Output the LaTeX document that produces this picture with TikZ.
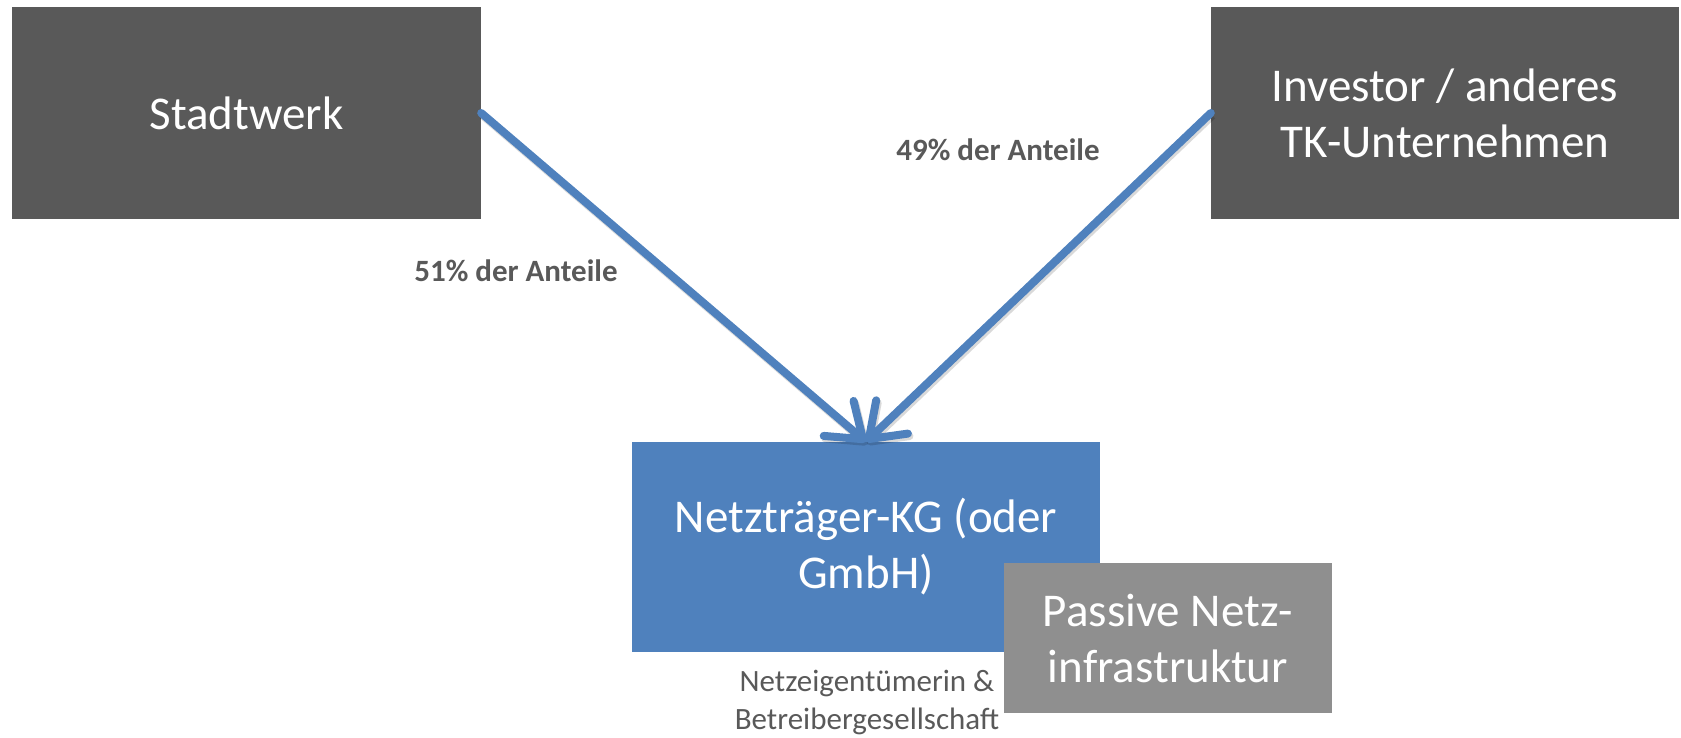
\documentclass[tikz,border=0pt]{standalone}
\usepackage{fontspec}
\setmainfont{Carlito}
\usetikzlibrary{arrows.meta}
\definecolor{darkbox}{HTML}{595959}
\definecolor{bluebox}{HTML}{4F81BD}
\definecolor{greybox}{HTML}{8F8F8F}
\definecolor{labeltext}{HTML}{595959}
\tikzset{
  box/.style={rectangle, inner sep=0pt, align=center, text=white,
    font=\fontsize{47}{56}\selectfont},
  sharelabel/.style={text=labeltext, font=\bfseries\fontsize{31}{37}\selectfont, inner sep=0pt},
  sublabel/.style={text=labeltext, align=center, font=\fontsize{31}{38}\selectfont, inner sep=0pt},
  sharearrow/.style={draw=bluebox, line width=8pt, line cap=round,
    -{Straight Barb[length=32pt, width=46pt, round]},
    preaction={draw=black, opacity=0.15, line width=8pt,
      transform canvas={shift={(1.5pt,-2.5pt)}}}}
}
\begin{document}
\begin{tikzpicture}[x=1pt,y=-1pt]
\useasboundingbox (0,0) rectangle (1681,738);
\node[box, fill=darkbox, minimum width=469pt, minimum height=212pt] (stadt) at (246.5,113) {Stadtwerk};
\node[box, fill=darkbox, minimum width=468pt, minimum height=212pt] (inv) at (1445,113) {Investor / anderes\\TK-Unternehmen};
\node[box, fill=bluebox, minimum width=468pt, minimum height=210pt] (netz) at (866,547) {Netzträger-KG (oder\\GmbH)};
\node[box, fill=greybox, minimum width=328pt, minimum height=150pt] (passive) at (1168,638) {Passive Netz-\\infrastruktur};
\node[sublabel] (sub) at (867,702) {Netzeigentümerin \&\\Betreibergesellschaft};
\node[sharelabel] (l51) at (516,271) {51\% der Anteile};
\node[sharelabel] (l49) at (998,150) {49\% der Anteile};
\draw[sharearrow] (stadt.east) -- (netz.north);
\draw[sharearrow] (inv.west) -- (netz.north);
\end{tikzpicture}
\end{document}
